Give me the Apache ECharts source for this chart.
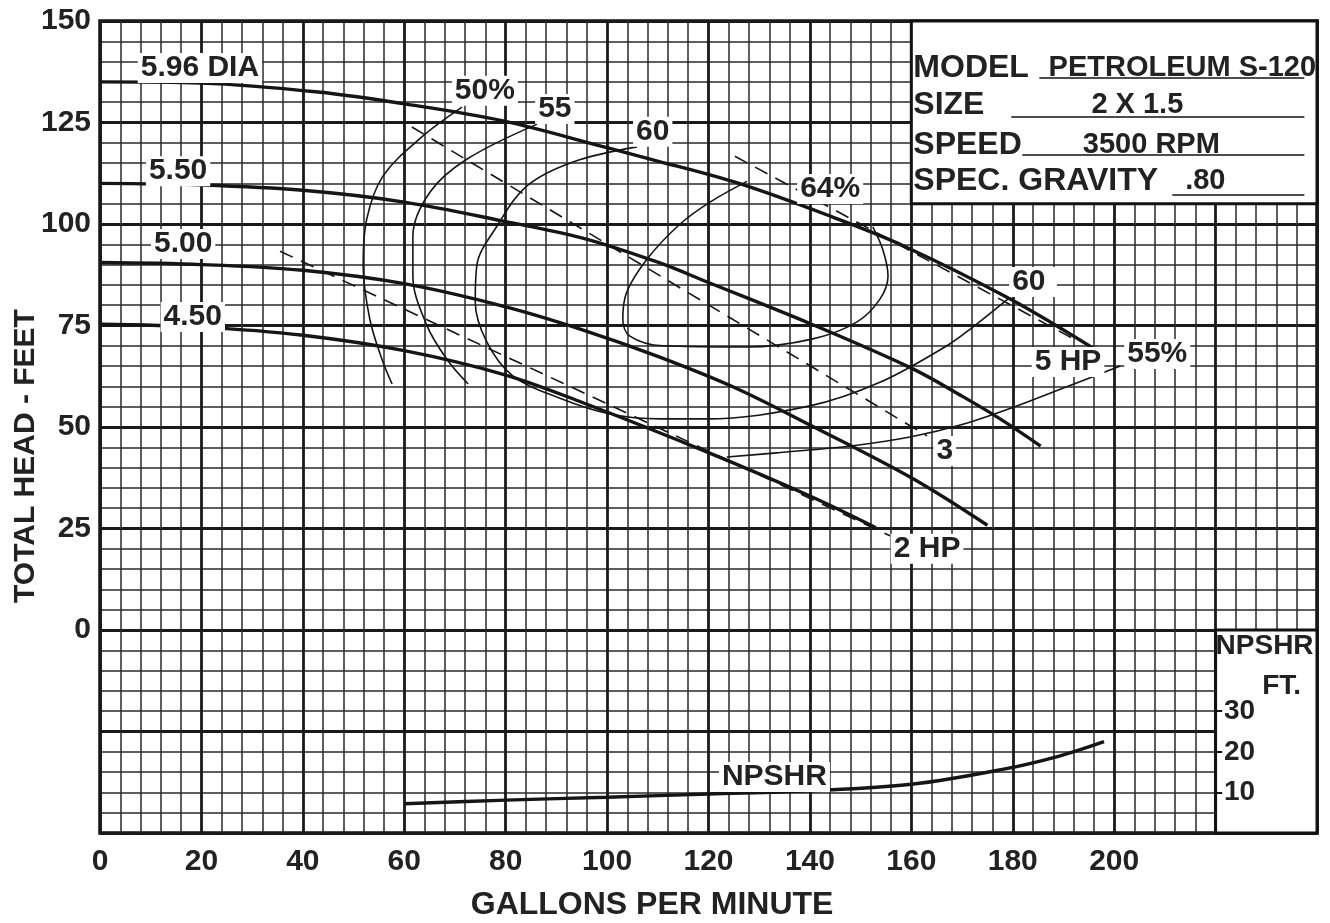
<!DOCTYPE html>
<html>
<head>
<meta charset="utf-8">
<title>Petroleum S-120 pump curve</title>
<script src="https://cdn.jsdelivr.net/npm/echarts@6/dist/echarts.min.js"></script>
<style>
  html, body { margin: 0; background: #fff; }
  #chart { width: 1330px; height: 923px; }
</style>
</head>
<body>
<div id="chart"></div>
<script>
// head (ft) vs flow (gpm) for each impeller diameter
const dia596 = [[0,135],[20,134.7],[43,132.5],[60,129.6],[79.5,125.4],[100,118.8],[108.5,116],[126,110],[144.5,101.7],[158.5,94.6],[179.5,81.5],[197,68.5]];
const dia550 = [[0,110],[20,109.6],[40,108.3],[60,105.4],[80,100.6],[95,96.6],[110,90.6],[120,85.6],[140,75.5],[160,64.5],[170,57.6],[177.5,52],[185.5,45.3]];
const dia500 = [[0,90.5],[20,90],[40,88.6],[60,85.3],[80,79.6],[95,74],[110,67.4],[125,59.8],[140,50.5],[160,37.5],[175,25.8]];
const dia450 = [[0,75.3],[20,74.6],[40,72.6],[60,68.8],[80,62.8],[95,56.1],[120,43.7],[140,33],[153,25.2]];

// efficiency contours
const eff50 = [[71.4,128.8],[63.7,121.7],[55.8,111.8],[52.6,101.2],[51.9,89.7],[53.2,76.6],[55.6,66.7],[57.6,60.6]];
const eff55 = [[86.2,124.6],[72.4,116],[65.1,107.9],[61.7,97],[61.7,87.2],[64.5,74.9],[68.4,66.7],[72.6,60.6]];
const eff60 = [[105.9,119],[93.3,115.3],[84.2,109.4],[78.3,99.5],[74.3,89.7],[74,80.8],[76.3,70.9],[81.4,62.6],[90.7,57.1],[100.6,53.2],[110.4,52],[119.7,52],[140,55.2],[153.8,61],[167,70],[172,74.5],[179.5,82]];
const eff64 = [[127.6,110.5],[120.3,105.4],[114.4,100],[107.9,91.4],[103.9,83.3],[103.1,76.6],[104.5,72.4],[111,70],[127.6,69.7],[140.6,71.7],[149.3,75.9],[153.8,81.5],[155.4,87.2],[154.4,93.6],[152.4,99.3]];
const eff55r = [[123.6,42.6],[134,43.7],[148.5,45.4],[160,47.6],[170,50.6],[180,54.8],[190,59.6],[201.2,65]];

// horsepower lines
const hp5 = [[125.2,116.7],[191.7,71.9]];
const hp3 = [[61.5,123.9],[163.1,47.8]];
const hp2 = [[35.5,93.3],[155.8,23.2]];

// NPSHR (ft) vs flow
const npshr = [[60,7.2],[80,8.1],[100,8.8],[120,9.6],[140,10.4],[160,12],[177.7,15.6],[189,18.9],[198,22.5]];

const gpmTicks = [0,20,40,60,80,100,120,140,160,180,200];
const headTicks = [0,25,50,75,100,125,150];
const npshTicks = [10,20,30];

const FONT = "'Liberation Sans', Arial, sans-serif";
const INK = '#222';

const chart = echarts.init(document.getElementById('chart'));

function curve(data, width, opts) {
  return Object.assign({
    type: 'line',
    data: data,
    smooth: 0.35,
    showSymbol: false,
    silent: true,
    lineStyle: { color: '#151515', width: width }
  }, opts || {});
}

const dashed = { type: [14, 9] };
const tag = {
  fontFamily: FONT, fontWeight: 'bold', fontSize: 30, color: INK,
  textBorderWidth: 0, opacity: 1, backgroundColor: '#fff', padding: [0, 3]
};

const option = {
  animation: false,
  backgroundColor: '#fff',
  grid: { left: 100, right: 13, top: 21, bottom: 90, show: true, borderColor: '#111', borderWidth: 3.5 },
  xAxis: {
    type: 'value', min: 0, max: 240, interval: 20,
    axisLine: { show: false }, axisTick: { show: false },
    axisLabel: {
      formatter: v => gpmTicks.includes(v) ? v : '',
      fontFamily: FONT, fontWeight: 'bold', fontSize: 30, color: INK, margin: 14
    },
    splitLine: { lineStyle: { color: '#1a1a1a', width: 2.8 } },
    minorTick: { show: false, splitNumber: 5 },
    minorSplitLine: { show: true, lineStyle: { color: '#2a2a2a', width: 1.5 } }
  },
  yAxis: [{
    type: 'value', min: -50, max: 150, interval: 25,
    axisLine: { show: false }, axisTick: { show: false },
    axisLabel: {
      formatter: v => headTicks.includes(v) ? v : '',
      fontFamily: FONT, fontWeight: 'bold', fontSize: 30, color: INK, margin: 9
    },
    splitLine: { lineStyle: { color: '#1a1a1a', width: 2.8 } },
    minorTick: { show: false, splitNumber: 5 },
    minorSplitLine: { show: true, lineStyle: { color: '#2a2a2a', width: 1.5 } }
  }, {
    type: 'value', min: 0, max: 200, interval: 10, z: 12,
    position: 'right', offset: -100,
    axisLine: { show: false }, axisTick: { show: false }, splitLine: { show: false },
    axisLabel: {
      formatter: v => npshTicks.includes(v) ? v : '',
      fontFamily: FONT, fontWeight: 'bold', fontSize: 28, color: INK, margin: 7
    }
  }],
  series: [
    curve(dia596, 3.4, {
      z: 3,
      markArea: {
        silent: true,
        itemStyle: { color: '#fff', borderColor: '#111', borderWidth: 3 },
        data: [
          [{ coord: [160, 150] }, { coord: [240, 105] }],
          [{ coord: [220, 0] }, { coord: [240, -50] }]
        ]
      }
    }),
    curve(dia550, 3.4),
    curve(dia500, 3.4),
    curve(dia450, 3.4),
    curve(eff50, 1.6),
    curve(eff55, 1.6),
    curve(eff60, 1.6),
    curve(eff64, 1.6),
    curve(eff55r, 1.6),
    curve(hp5, 1.6, { smooth: false, lineStyle: Object.assign({ color: '#151515', width: 1.6 }, dashed) }),
    curve(hp3, 1.6, { smooth: false, lineStyle: Object.assign({ color: '#151515', width: 1.6 }, dashed) }),
    curve(hp2, 1.6, { smooth: false, lineStyle: Object.assign({ color: '#151515', width: 1.6 }, dashed) }),
    curve(npshr, 3.4, {
      yAxisIndex: 1,
      markLine: {
        silent: true, symbol: 'none', label: { show: false },
        lineStyle: { color: '#111', width: 2, type: 'solid' },
        data: npshTicks.map(v => [{ coord: [220, v] }, { coord: [221.3, v] }])
      }
    }),
    {
      type: 'scatter', symbolSize: 0, silent: true, z: 10,
      itemStyle: { color: '#222' },
      label: Object.assign({ show: true, position: 'inside', formatter: p => p.name }, tag),
      data: [
        { name: '5.96 DIA', value: [19.7, 138.4] },
        { name: '5.50', value: [15.4, 113] },
        { name: '5.00', value: [16.4, 95.1] },
        { name: '4.50', value: [18.3, 77.1] },
        { name: '50%', value: [75.9, 132.8] },
        { name: '55', value: [89.7, 128.3] },
        { name: '60', value: [109, 122.7] },
        { name: '64%', value: [144, 108.6] },
        { name: '60 ', value: [184, 85.7] },
        { name: '55%', value: [208.5, 68] },
        { name: '5 HP', value: [190.9, 66] },
        { name: '3', value: [166.6, 44.1] },
        { name: '2 HP', value: [163.1, 20] },
        { name: 'NPSHR', value: [133, -36.2] }
      ]
    }
  ]
};

chart.setOption(option);

// text blocks placed relative to the chart's own coordinate system
const box = chart.convertToPixel({ xAxisIndex: 0, yAxisIndex: 0 }, [160, 150]);
const npBox = chart.convertToPixel({ xAxisIndex: 0, yAxisIndex: 0 }, [220, 0]);
const plotB = chart.convertToPixel({ xAxisIndex: 0, yAxisIndex: 0 }, [100, -50]);

const keyText = { fontFamily: FONT, fontWeight: 'bold', fontSize: 32, fill: INK };
const valText = { fontFamily: FONT, fontWeight: 'bold', fontSize: 29, fill: INK };
const rows = [
  ['MODEL', 'PETROLEUM S-120', 271, 128, 47, 57],
  ['SIZE', '2 X 1.5', 226, 100, 84, 96],
  ['SPEED', '3500 RPM', 240, 111, 124, 134],
  ['SPEC. GRAVITY', '.80', 294, 261, 160, 174]
];
const g = [];
rows.forEach(r => {
  g.push({ type: 'text', x: box[0] + 2, y: box[1] + r[4], z: 20,
    style: Object.assign({ text: r[0], verticalAlign: 'middle' }, keyText) });
  g.push({ type: 'text', x: box[0] + r[2], y: box[1] + r[4], z: 20,
    style: Object.assign({ text: r[1], align: 'center', verticalAlign: 'middle' }, valText) });
  g.push({ type: 'line', z: 20, shape: { x1: box[0] + r[3], y1: box[1] + r[5], x2: box[0] + 393, y2: box[1] + r[5] },
    style: { stroke: '#111', lineWidth: 1.6 } });
});
g.push({ type: 'text', x: npBox[0] + 49, y: npBox[1] + 16, z: 20,
  style: { text: 'NPSHR', align: 'center', verticalAlign: 'middle', fontFamily: FONT, fontWeight: 'bold', fontSize: 28, fill: INK } });
g.push({ type: 'text', x: npBox[0] + 66, y: npBox[1] + 56, z: 20,
  style: { text: 'FT.', align: 'center', verticalAlign: 'middle', fontFamily: FONT, fontWeight: 'bold', fontSize: 28, fill: INK } });
g.push({ type: 'text', x: 26, y: 456, rotation: Math.PI / 2, z: 20,
  style: { text: 'TOTAL HEAD - FEET', align: 'center', verticalAlign: 'middle', fontFamily: FONT, fontWeight: 'bold', fontSize: 30, fill: INK } });
g.push({ type: 'text', x: plotB[0] + 45, y: plotB[1] + 72, z: 20,
  style: { text: 'GALLONS PER MINUTE', align: 'center', verticalAlign: 'middle', fontFamily: FONT, fontWeight: 'bold', fontSize: 32, fill: INK } });

chart.setOption({ graphic: g });
window.onresize = function () { chart.resize(); };
</script>
</body>
</html>
